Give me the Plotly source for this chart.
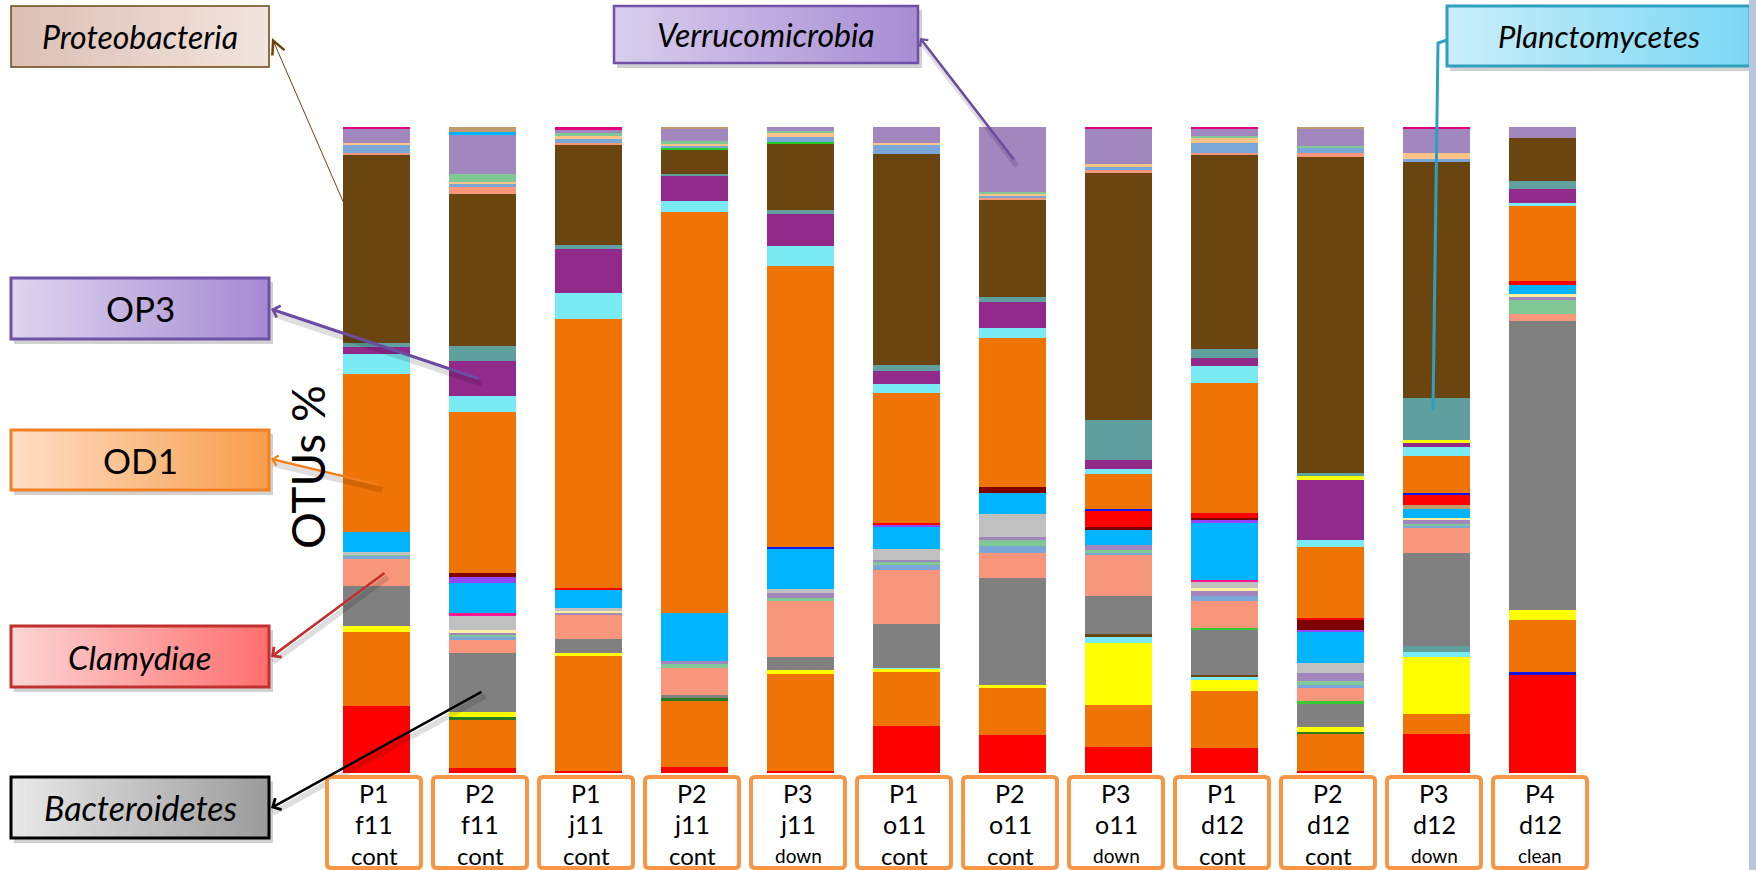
import plotly.graph_objects as go

W, H = 1756, 870

# sample labels (plot / date / condition)
plots = ["P1", "P2", "P1", "P2", "P3", "P1", "P2", "P3", "P1", "P2", "P3", "P4"]
dates = ["f11", "f11", "j11", "j11", "j11", "o11", "o11", "o11", "d12", "d12", "d12", "d12"]
conds = ["cont", "cont", "cont", "cont", "down", "cont", "cont", "down", "cont", "cont", "down", "clean"]

# OTU % per sample, listed in stacking order from the bottom of each column
red_low      = [10.4, 0.8, 0.3, 1.0, 0.3, 7.2, 5.9, 4.1, 3.9, 0.3, 6.0, 15.1]
blue_low     = [0, 0, 0, 0, 0, 0, 0, 0, 0, 0, 0, 0.5]
orange_low   = [11.5, 7.5, 17.8, 10.3, 15.1, 8.4, 7.3, 6.5, 8.8, 5.7, 3.1, 8.1]
dkgreen_low  = [0, 0.3, 0, 0.3, 0, 0, 0, 0, 0, 0.4, 0, 0]
yellow_low   = [0.8, 0.8, 0.4, 0, 0.5, 0.5, 0.4, 9.6, 1.8, 0.7, 8.9, 1.6]
cyan_low     = [0, 0, 0, 0, 0, 0.2, 0, 0.9, 0.3, 0, 0.8, 0]
teal_low     = [0, 0, 0, 0, 0, 0, 0, 0, 0, 0, 0.8, 0]
brown_low    = [0, 0, 0, 0, 0, 0, 0, 0.4, 0.4, 0, 0, 0]
bacteroid    = [6.2, 9.1, 2.3, 0.5, 2.1, 6.8, 16.6, 5.9, 6.9, 3.6, 14.5, 44.7]
lime_low     = [0, 0, 0, 0, 0, 0, 0, 0, 0.4, 0.4, 0, 0]
salmon_low   = [4.2, 2.1, 3.6, 4.1, 8.7, 8.4, 3.9, 6.3, 4.1, 2.0, 3.8, 1.0]
steel_low    = [0.5, 0.4, 0, 0, 0, 0.8, 1.1, 0.5, 0.8, 0.6, 0.4, 0]
green_low    = [0.3, 0.4, 0, 0.6, 0.4, 0.3, 0.8, 0.3, 0, 0.5, 0.3, 2.2]
lavender_low = [0, 0.4, 0.5, 0.5, 0.8, 0.4, 0.5, 0.8, 0.8, 1.3, 0.5, 0.5]
ltyellow_low = [0, 0.3, 0.3, 0, 0, 0, 0, 0, 0.4, 0, 0.4, 0.5]
silver_mid   = [0.3, 2.3, 0.3, 0, 0.6, 1.6, 3.6, 0, 1.0, 1.5, 0, 0]
magenta_low  = [0, 0.3, 0, 0, 0, 0, 0, 0, 0.3, 0, 0, 0]
skyblue_mid  = [3.1, 4.7, 2.8, 7.5, 6.2, 3.5, 3.3, 2.3, 8.8, 4.8, 1.3, 1.3]
tan_mid      = [0, 0, 0, 0, 0, 0, 0, 0, 0, 0, 0.7, 0]
violet_mid   = [0, 1.0, 0, 0, 0, 0.3, 0, 0, 0.5, 0.4, 0, 0]
darkred_mid  = [0, 0.6, 0, 0, 0, 0, 0.9, 0.5, 0.3, 1.5, 0, 0]
red_mid      = [0, 0, 0.4, 0, 0, 0.3, 0, 2.4, 0.8, 0.3, 1.5, 0.6]
blue_mid     = [0, 0, 0, 0, 0.3, 0, 0, 0.4, 0, 0, 0.4, 0]
od1          = [24.5, 24.9, 41.6, 62.0, 43.5, 20.2, 23.1, 5.4, 20.1, 11.0, 5.7, 11.6]
cyan_mid     = [3.1, 2.4, 4.0, 1.8, 3.1, 1.3, 1.5, 0.8, 2.6, 1.1, 1.3, 0.5]
op3          = [1.1, 5.5, 6.8, 3.9, 5.0, 2.1, 4.0, 1.3, 1.3, 9.3, 0.8, 2.2]
yellow_mid   = [0, 0, 0, 0, 0, 0, 0, 0, 0, 0.5, 0.3, 0]
plancto      = [0.5, 2.3, 0.7, 0.3, 0.5, 0.8, 0.8, 6.2, 1.3, 0.5, 6.5, 1.2]
proteo       = [29.2, 23.5, 15.4, 3.6, 10.3, 32.7, 15.1, 38.3, 30.1, 48.9, 36.7, 6.7]
lime_top     = [0, 0, 0, 0.4, 0.3, 0, 0, 0, 0, 0, 0, 0]
salmon_top   = [0.3, 1.1, 0.4, 0, 0, 0, 0.3, 0.4, 0.3, 0.6, 0, 0]
steel_top    = [1.3, 0.5, 0.5, 0.3, 0.8, 1.5, 0.3, 0.5, 1.5, 0.9, 0.3, 0]
peach_top    = [0.3, 0.3, 0.6, 0.4, 0.7, 0.3, 0.3, 0.4, 0.8, 0, 1.0, 0]
green_top    = [0, 1.2, 0.3, 0.3, 0.2, 0, 0.2, 0, 0.3, 0.3, 0, 0]
verruco      = [2.1, 6.2, 0.5, 1.9, 0.6, 2.4, 10.1, 5.5, 1.1, 2.6, 3.7, 1.7]
skyblue_top  = [0, 0.3, 0, 0, 0, 0, 0, 0, 0, 0, 0, 0]
tan_top      = [0, 0.8, 0, 0.3, 0, 0, 0, 0, 0, 0.3, 0, 0]
magenta_top  = [0.3, 0, 0.5, 0, 0, 0, 0, 0.3, 0.3, 0, 0.3, 0]

stack = [
    ("red_low", red_low, "#FF0000"),
    ("blue_low", blue_low, "#1414E6"),
    ("orange_low", orange_low, "#F07305"),
    ("dkgreen_low", dkgreen_low, "#2A7A1E"),
    ("yellow_low", yellow_low, "#FFFF00"),
    ("cyan_low", cyan_low, "#7AEBF2"),
    ("teal_low", teal_low, "#5FA09E"),
    ("brown_low", brown_low, "#6B4510"),
    ("Bacteroidetes", bacteroid, "#808080"),
    ("lime_low", lime_low, "#33CC33"),
    ("salmon_low", salmon_low, "#F7967A"),
    ("steel_low", steel_low, "#7BA6D8"),
    ("green_low", green_low, "#80C997"),
    ("lavender_low", lavender_low, "#A287BE"),
    ("ltyellow_low", ltyellow_low, "#FFF0A0"),
    ("silver_mid", silver_mid, "#C0C0C0"),
    ("magenta_low", magenta_low, "#FF1493"),
    ("skyblue_mid", skyblue_mid, "#00B4FF"),
    ("tan_mid", tan_mid, "#C09A6B"),
    ("violet_mid", violet_mid, "#9146FF"),
    ("darkred_mid", darkred_mid, "#800000"),
    ("red_mid", red_mid, "#FF0000"),
    ("blue_mid", blue_mid, "#1414E6"),
    ("OD1", od1, "#F07305"),
    ("cyan_mid", cyan_mid, "#7AEBF2"),
    ("OP3", op3, "#912A8A"),
    ("yellow_mid", yellow_mid, "#FFFF00"),
    ("Planctomycetes", plancto, "#5FA09E"),
    ("Proteobacteria", proteo, "#6B4510"),
    ("lime_top", lime_top, "#22CC22"),
    ("salmon_top", salmon_top, "#F7967A"),
    ("steel_top", steel_top, "#7BA6D8"),
    ("peach_top", peach_top, "#FFC388"),
    ("green_top", green_top, "#80C997"),
    ("Verrucomicrobia", verruco, "#A287BE"),
    ("skyblue_top", skyblue_top, "#00B4FF"),
    ("tan_top", tan_top, "#C09A6B"),
    ("magenta_top", magenta_top, "#E5007E"),
]

xpos = list(range(len(plots)))

fig = go.Figure()
for name, vals, col in stack:
    fig.add_trace(go.Bar(
        x=xpos, y=vals, name=name, width=0.632,
        marker=dict(color=col, line=dict(width=0)),
        hoverinfo="name+y",
    ))


def fx(px):
    return px / W


def fy(py):
    return 1 - py / H


def hexrgb(h):
    h = h.lstrip("#")
    return tuple(int(h[i:i + 2], 16) for i in (0, 2, 4))


def mix(c0, c1, t):
    a, b = hexrgb(c0), hexrgb(c1)
    return "rgb(%d,%d,%d)" % tuple(round(a[i] + (b[i] - a[i]) * t) for i in range(3))


shapes = []
annotations = []


def text_at(px, py, text, size, angle=0):
    annotations.append(dict(xref="paper", yref="paper", x=fx(px), y=fy(py), text=text,
                            showarrow=False, xanchor="center", yanchor="middle",
                            textangle=angle,
                            font=dict(family="Lato", size=size, color="black")))


def label_box(x0, y0, x1, y1, c_left, c_right, border, bw, text, size, shadow=True, n=32):
    if shadow:
        shapes.append(dict(type="rect", xref="paper", yref="paper",
                           x0=fx(x0 + 3), x1=fx(x1 + 4), y0=fy(y1 + 5), y1=fy(y0 + 4),
                           fillcolor="rgba(0,0,0,0.18)", line=dict(width=0), layer="below"))
    step = (x1 - x0) / n
    for i in range(n):
        shapes.append(dict(type="rect", xref="paper", yref="paper",
                           x0=fx(x0 + i * step), x1=fx(x0 + (i + 1) * step + 0.6),
                           y0=fy(y1), y1=fy(y0),
                           fillcolor=mix(c_left, c_right, i / (n - 1)),
                           line=dict(width=0)))
    shapes.append(dict(type="rect", xref="paper", yref="paper",
                       x0=fx(x0), x1=fx(x1), y0=fy(y1), y1=fy(y0),
                       line=dict(color=border, width=bw)))
    text_at((x0 + x1) / 2, (y0 + y1) / 2, text, size)


def pointer(bx, by, tx, ty, color, width, head, hsize, shadow=True):
    if shadow:
        shapes.append(dict(type="line", xref="paper", yref="paper",
                           x0=fx(bx + 2), y0=fy(by + 5), x1=fx(tx + 2), y1=fy(ty + 5),
                           line=dict(color="rgba(0,0,0,0.13)", width=width + 3)))
    annotations.append(dict(xref="paper", yref="paper", x=fx(bx), y=fy(by),
                            ax=tx - bx, ay=ty - by, axref="pixel", ayref="pixel",
                            text="", showarrow=True, arrowhead=head, arrowsize=hsize,
                            arrowwidth=width, arrowcolor=color, standoff=0))


def rounded_rect(x0, y0, x1, y1, r):
    # SVG path in paper units for a rectangle with slightly rounded corners
    pts = [
        ("M", x0 + r, y0), ("L", x1 - r, y0), ("Q", x1, y0, x1, y0 + r),
        ("L", x1, y1 - r), ("Q", x1, y1, x1 - r, y1), ("L", x0 + r, y1),
        ("Q", x0, y1, x0, y1 - r), ("L", x0, y0 + r), ("Q", x0, y0, x0 + r, y0),
    ]
    out = []
    for cmd, *vals in pts:
        coords = []
        for k in range(0, len(vals), 2):
            coords.append("%f,%f" % (fx(vals[k]), fy(vals[k + 1])))
        out.append(cmd + " " + " ".join(coords))
    return " ".join(out) + " Z"


# taxon labels with their pointers
label_box(11, 6, 269, 67, "#DCC0B4", "#F1E4DE", "#6B4510", 1.5, "<i>Proteobacteria</i>", 32, shadow=False)
label_box(11, 278, 269, 339, "#DDD4EF", "#A68BD2", "#7150A8", 3, "OP3", 35)
label_box(11, 430, 269, 490, "#FDDEC6", "#F89E4C", "#F28022", 3, "OD1", 35)
label_box(11, 626, 269, 687, "#FCD4D4", "#FF7070", "#C0302E", 3, "<i>Clamydiae</i>", 33)
label_box(11, 777, 269, 838, "#E8E8E8", "#9C9C9C", "#000000", 3, "<i>Bacteroidetes</i>", 34)
label_box(614, 6, 918, 63, "#D8CDED", "#A88DD3", "#7150A8", 2.5, "<i>Verrucomicrobia</i>", 32)
label_box(1447, 6, 1750, 66, "#C8EEF9", "#7DD8F3", "#2F9FC0", 3, "<i>Planctomycetes</i>", 31)

pointer(272, 38, 365, 252, "#6B4510", 1, 5, 2.6, shadow=False)
pointer(271, 309, 480, 379, "#6A4CA0", 3, 4, 0.8)
pointer(271, 459, 380, 485, "#F07F20", 2.5, 4, 0.8)
pointer(271, 657, 386, 572, "#C0302E", 2.5, 4, 1.0)
pointer(271, 808, 483, 691, "#000000", 2.5, 4, 1.0)
pointer(920, 38, 1015, 161, "#6A4CA0", 2.5, 4, 0.8)

# Planctomycetes pointer: short hook out of the box, then down into the column
shapes.append(dict(type="path", xref="paper", yref="paper",
                   path="M %f,%f L %f,%f L %f,%f" % (fx(1447), fy(40), fx(1438), fy(43), fx(1433), fy(411)),
                   line=dict(color="#2AA0C2", width=3)))

# sample boxes under the columns
for i, (p, d, c) in enumerate(zip(plots, dates, conds)):
    cx = 376.5 + 106 * i
    shapes.append(dict(type="path", xref="paper", yref="paper",
                       path=rounded_rect(cx - 49.5, 777, cx + 44.5, 868, 4),
                       fillcolor="white", line=dict(color="#F79646", width=4)))
    mid = cx - 2.5
    text_at(mid, 793, p, 25)
    text_at(mid, 824, d, 25)
    text_at(mid, 855, c, 19 if c in ("down", "clean") else 24)

# y-axis title
text_at(307, 467, "OTUs %", 46, angle=-90)

# right-hand frame strip
shapes.append(dict(type="rect", xref="paper", yref="paper", x0=fx(1749), x1=1, y0=0, y1=1,
                   fillcolor="#B8C7DE", line=dict(width=0)))

fig.update_layout(
    width=W, height=H,
    margin=dict(l=0, r=0, t=0, b=0),
    paper_bgcolor="white", plot_bgcolor="white",
    barmode="stack", bargap=0,
    showlegend=False,
    xaxis=dict(range=[-3.552, 13.014], visible=False, fixedrange=True),
    yaxis=dict(range=[-15.015, 119.66], visible=False, fixedrange=True),
    shapes=shapes,
    annotations=annotations,
)

fig.write_html("out.html")
